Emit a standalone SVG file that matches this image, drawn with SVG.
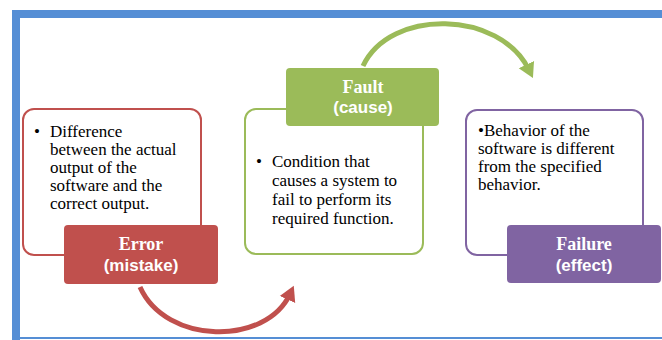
<svg xmlns="http://www.w3.org/2000/svg" width="662" height="340" viewBox="0 0 662 340">
<defs>
<style>
.body{font-family:"Liberation Serif","Times New Roman",serif;font-size:17px;fill:#000}
.t1{font-family:"Liberation Serif","Times New Roman",serif;font-size:18px;font-weight:bold;fill:#fff;text-anchor:middle}
.t2{font-family:"Liberation Sans",Arial,sans-serif;font-size:17px;font-weight:bold;fill:#fff;text-anchor:middle}
.conn{fill:none;stroke-width:5}
</style>
<marker id="ahR" markerWidth="4" markerHeight="4" refX="1.2" refY="2" orient="auto" markerUnits="strokeWidth" viewBox="0 0 4 4">
<path d="M0,0.3 L3,2 L0,3.7 Z" fill="#C0504D"/>
</marker>
<marker id="ahG" markerWidth="4" markerHeight="4" refX="1.2" refY="2" orient="auto" markerUnits="strokeWidth" viewBox="0 0 4 4">
<path d="M0,0.3 L3,2 L0,3.7 Z" fill="#9BBB59"/>
</marker>
</defs>
<rect width="662" height="340" fill="#fff"/>
<g id="frame">
<rect x="12" y="10" width="650" height="8" fill="#558ED5"/>
<rect x="12" y="10" width="8" height="330" fill="#558ED5"/>
<rect x="12" y="337" width="650" height="2" fill="#558ED5"/>
</g>
<g id="connectors">
<path class="conn" stroke="#C0504D" d="M140,287 C166,345 266,346 290,294" marker-end="url(#ahR)"/>
<path class="conn" stroke="#9BBB59" d="M363,66 C390,8 500,10 529,70" marker-end="url(#ahG)"/>
</g>
<g id="error">
<rect x="23" y="109" width="178" height="146" rx="11" fill="#fff" stroke="#C0504D" stroke-width="2"/>
<text class="body" x="34" y="137">•</text>
<text class="body"><tspan x="50" y="137">Difference</tspan><tspan x="50" y="155">between the actual</tspan><tspan x="50" y="173">output of the</tspan><tspan x="50" y="191">software and the</tspan><tspan x="50" y="209">correct output.</tspan></text>
<rect x="64" y="225" width="154" height="59" rx="4" fill="#C0504D"/>
<text class="t1" x="141" y="250">Error</text>
<text class="t2" x="141" y="271">(mistake)</text>
</g>
<g id="fault">
<rect x="245" y="109" width="178" height="145" rx="11" fill="#fff" stroke="#9BBB59" stroke-width="2"/>
<text class="body" x="256" y="167">•</text>
<text class="body"><tspan x="272" y="167">Condition that</tspan><tspan x="272" y="186">causes a system to</tspan><tspan x="272" y="205">fail to perform its</tspan><tspan x="272" y="224">required function.</tspan></text>
<rect x="286" y="68" width="153" height="58" rx="4" fill="#9BBB59"/>
<text class="t1" x="363" y="93">Fault</text>
<text class="t2" x="363" y="113">(cause)</text>
</g>
<g id="failure">
<rect x="466" y="110" width="177" height="145" rx="11" fill="#fff" stroke="#8064A2" stroke-width="2"/>
<text class="body"><tspan x="478" y="136">•Behavior of the</tspan><tspan x="478" y="154">software is different</tspan><tspan x="478" y="172">from the specified</tspan><tspan x="478" y="190">behavior.</tspan></text>
<rect x="507" y="225" width="154" height="58" rx="4" fill="#8064A2"/>
<text class="t1" x="584" y="250">Failure</text>
<text class="t2" x="584" y="271">(effect)</text>
</g>
</svg>
